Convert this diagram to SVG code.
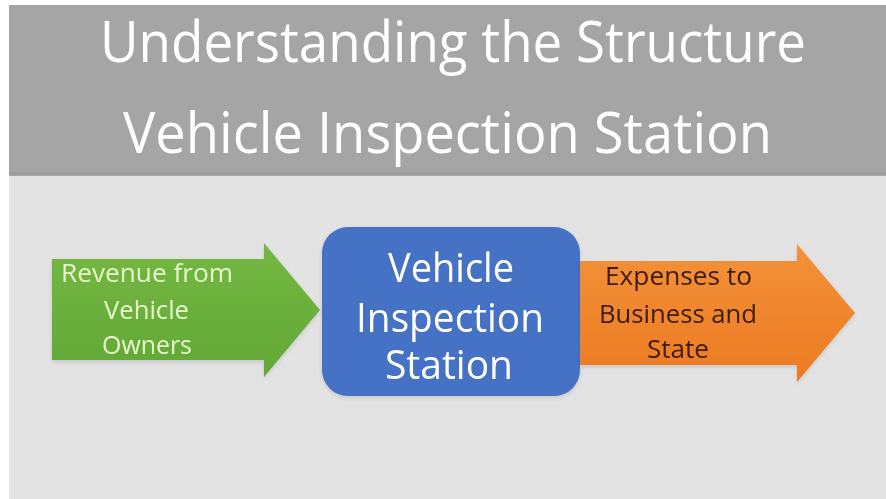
<svg xmlns="http://www.w3.org/2000/svg" width="886" height="499" viewBox="0 0 886 499">
  <defs>
    <linearGradient id="gGreen" x1="0" y1="0" x2="0" y2="1">
      <stop offset="0" stop-color="#74b843"/>
      <stop offset="1" stop-color="#62a836"/>
    </linearGradient>
    <linearGradient id="gOrange" x1="0" y1="0" x2="0" y2="1">
      <stop offset="0" stop-color="#f39239"/>
      <stop offset="1" stop-color="#ec7a22"/>
    </linearGradient>
    <filter id="soft" x="-10%" y="-10%" width="120%" height="130%">
      <feDropShadow dx="0" dy="2" stdDeviation="2" flood-color="#000" flood-opacity="0.12"/>
    </filter>
  </defs>
  <style>
    text { font-family: "Open Sans", "Noto Sans", "Liberation Sans", sans-serif; }
    .title { fill: #ffffff; font-size: 56px; }
    .box { fill: #ffffff; font-size: 40px; }
    .green { fill: #e8f6cc; font-size: 26px; }
    .orange { fill: #3d1b0e; font-size: 26px; }
  </style>
  <rect x="0" y="0" width="886" height="499" fill="#ffffff"/>
  <g id="header">
    <rect x="9" y="5" width="877" height="171" fill="#a5a5a5"/>
    <rect x="9" y="172" width="877" height="3" fill="#9c9c9c"/>
    <text class="title" x="100" y="62" textLength="706" lengthAdjust="spacingAndGlyphs">Understanding the Structure</text>
    <text class="title" x="123" y="153" textLength="649" lengthAdjust="spacingAndGlyphs">Vehicle Inspection Station</text>
  </g>
  <rect id="body" x="9" y="176" width="877" height="323" fill="#e3e3e3"/>
  <g id="connectors"/>
  <g id="revenue" filter="url(#soft)">
    <path d="M52,259 H264 V243 L320,310 L264,377 V360 H52 Z" fill="url(#gGreen)"/>
    <text class="green" x="61" y="282" textLength="172" lengthAdjust="spacingAndGlyphs">Revenue from</text>
    <text class="green" x="104" y="319" textLength="85" lengthAdjust="spacingAndGlyphs">Vehicle</text>
    <text class="green" x="102" y="354" textLength="90" lengthAdjust="spacingAndGlyphs">Owners</text>
  </g>
  <g id="station" filter="url(#soft)">
    <rect x="322" y="227" width="258" height="169" rx="26" ry="26" fill="#4472c4"/>
    <text class="box" x="388" y="282" textLength="126" lengthAdjust="spacingAndGlyphs">Vehicle</text>
    <text class="box" x="356" y="332" textLength="188" lengthAdjust="spacingAndGlyphs">Inspection</text>
    <text class="box" x="385" y="379" textLength="128" lengthAdjust="spacingAndGlyphs">Station</text>
  </g>
  <g id="expenses" filter="url(#soft)">
    <path d="M580,261 H797 V244 L855,313 L797,382 V365 H580 Z" fill="url(#gOrange)"/>
    <text class="orange" x="605" y="285" textLength="147" lengthAdjust="spacingAndGlyphs">Expenses to</text>
    <text class="orange" x="599" y="323" textLength="158" lengthAdjust="spacingAndGlyphs">Business and</text>
    <text class="orange" x="647" y="358" textLength="62" lengthAdjust="spacingAndGlyphs">State</text>
  </g>
</svg>
